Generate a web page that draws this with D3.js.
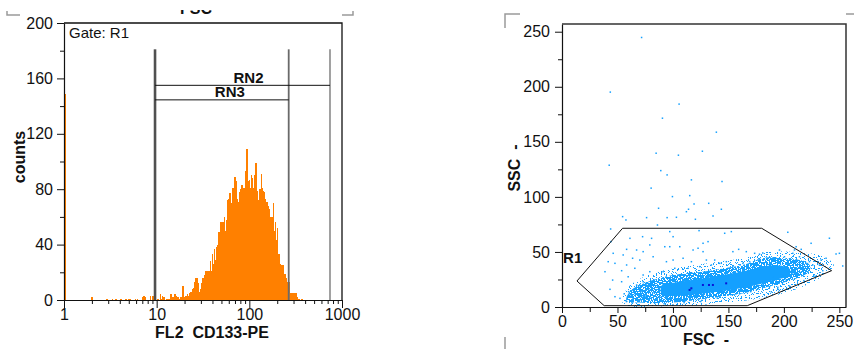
<!DOCTYPE html>
<html>
<head>
<meta charset="utf-8">
<script src="https://cdn.jsdelivr.net/npm/d3@7/dist/d3.min.js"></script>
<style>
  body { margin: 0; background: #fff; }
  svg { display: block; font-family: "Liberation Sans", Arial, sans-serif; }
</style>
</head>
<body>
<svg width="854" height="349"></svg>
<script>
// ---- histogram data (FL2 CD133-PE, 256 log channels over 1..1000)
const fl2Ticks = [1, 10, 100, 1000];
const countTicks = [0, 40, 80, 120, 160, 200];
const countMinor = [20, 60, 100, 140, 180];
const binCounts = [
  149, 0, 0, 0, 0, 0, 0, 0, 0, 0,
  0, 0, 0, 0, 0, 0, 0, 0, 0, 0,
  0, 0, 0, 0, 0, 2, 0, 0, 0, 0,
  0, 0, 0, 0, 0, 0, 0, 0, 0, 1,
  0, 0, 0, 0, 1, 0, 0, 1, 0, 0,
  0, 0, 1, 0, 0, 0, 1, 1, 0, 1,
  1, 0, 0, 0, 0, 1, 0, 1, 0, 0,
  0, 0, 2, 3, 2, 0, 0, 0, 0, 3,
  0, 3, 0, 2, 0, 0, 1, 0, 4, 1,
  3, 2, 2, 0, 1, 1, 1, 0, 4, 2,
  2, 4, 4, 3, 2, 1, 1, 2, 2, 10,
  2, 3, 3, 4, 3, 5, 6, 4, 8, 9,
  13, 16, 16, 12, 6, 8, 12, 16, 14, 18,
  21, 21, 21, 21, 28, 21, 33, 26, 37, 29,
  38, 40, 49, 43, 56, 56, 56, 60, 50, 58,
  72, 73, 77, 69, 70, 81, 73, 89, 86, 73,
  71, 78, 80, 83, 81, 81, 72, 93, 109, 86,
  87, 81, 90, 88, 81, 90, 99, 79, 72, 72,
  80, 91, 81, 79, 78, 73, 71, 68, 66, 60,
  60, 60, 70, 50, 56, 43, 52, 33, 26, 25,
  25, 25, 19, 19, 16, 13, 13, 13, 5, 5,
  5, 2, 5, 5, 2, 1, 1, 0, 1, 1,
  0, 0, 0, 0, 0, 0, 0, 0, 0, 0,
  0, 0, 0, 0, 0, 0, 0, 0, 0, 0,
  0, 0, 0, 0, 0, 0, 0, 0, 0, 0,
  0, 0, 0, 0, 0, 0
];
// marker regions: [name, low, high, level (counts), label shift px]
const markers = [
  ['RN2', 9.6, 742, 155, 6],
  ['RN3', 9.6, 266, 144.5, 8]
];
const markerTop = 181;

// ---- dot plot data (FSC vs SSC, 0..256)
const scatTicks = [0, 50, 100, 150, 200, 250];
const scatMinor = [25, 75, 125, 175, 225];
const gateR1 = [[13.5, 23.6], [54.6, 71.5], [180, 71.5], [243, 33], [167, 1.2], [38, 1.2]];
// density outlines of the main population (sparse halo, speckled core, solid centre)
const haloOutline = [
  [55, 3], [100, 1], [166, 6], [205, 14], [235, 28], [245, 38], [235, 46], [210, 50],
  [184, 50], [166, 45], [133, 40], [100, 35], [75, 28], [58, 16]
];
const coreOutline = [
  [58, 6], [70, 4], [100, 4], [133, 8], [166, 13], [184, 18], [202, 23], [220, 30], [224, 36],
  [220, 41], [202, 44], [184, 45], [166, 39], [133, 33], [100, 29], [75, 22], [62, 15]
];
const denseOutline = [
  [90, 11], [100, 10], [133, 13], [166, 18], [190, 24], [205, 29], [205, 35], [190, 38],
  [166, 33], [133, 27], [100, 22], [90, 20]
];
const events = [
  [71.7, 244.8], [43.5, 195.2], [105.5, 184.3], [90.5, 171.5], [139.1, 158.8], [84.8, 139.7], [104.9, 137.9],
  [126.5, 141.5], [42.5, 128.8], [89, 123.9], [94.7, 120], [116.6, 115.5], [144.2, 114], [80.3, 108],
  [99.5, 100.3], [115.1, 101.2], [132.2, 94.2], [87, 89.7], [114, 88.8], [143.6, 88.8], [119, 93.6],
  [76.2, 81.2], [94.7, 81.2], [120.2, 79.7], [54.6, 82.1], [57.6, 79.1], [43.8, 70.9], [112.1, 86.6],
  [103.1, 81.5], [136.1, 82.7], [86, 74.5],
  [61.2, 62.4], [72.6, 63.9], [80.7, 62.4], [44.1, 59.4], [58.2, 52.4], [67.2, 51.8], [73.1, 50.3],
  [79.1, 56.4], [46.1, 48.8], [55.1, 47.3], [63.6, 44.3], [70.1, 42.7], [82.1, 45.7], [41.6, 41.2],
  [47.7, 39.7], [58.2, 38.2], [65.6, 35.2], [38.7, 32.1], [53.7, 33], [59.6, 27.5], [73.1, 29.1],
  [79.1, 32.1], [45.6, 24.5], [53.7, 23], [43.2, 16.1], [47.7, 9.4], [63.6, 15.5], [67.2, 20], [73.1, 23],
  [77.6, 21.5], [82.7, 24.5], [71.7, 9.4], [61.2, 10.9], [52.2, 7.9],
  [97.1, 68.5], [100.1, 63.9], [123.5, 69.4], [146.6, 67], [152.6, 68.5], [127.1, 57.9], [131.6, 59.4],
  [122.6, 53.4], [92.6, 54.8], [97.1, 54.8], [106.1, 54.8], [118.1, 51.8], [127.1, 50.3], [159.2, 52.4],
  [166.1, 50.3], [173.6, 48.8], [154, 50.3], [94.1, 41.2], [100.1, 42.7], [109.1, 44.3], [116.6, 41.2],
  [130.1, 42.7], [137.6, 42.7], [142.1, 39.7], [148.1, 41.2], [91.1, 32.1], [101.6, 35.2], [113.6, 35.2],
  [124.1, 36.7], [134.6, 38.2], [154, 36.7], [163, 39.7], [169.1, 41.2], [176.5, 42.7],
  [203.5, 67.9], [241, 62.5], [224.5, 57.9], [209.5, 51.8], [215.6, 52.4], [196, 51.8], [178, 48], [181, 49],
  [247, 48.2], [250, 48.8], [238, 44.3], [233.5, 42.7], [230.5, 41.2], [223, 41.2], [220, 39.7], [226, 38.2],
  [217, 36.7], [211, 35.2], [221.5, 35.2], [232, 38.2], [253, 37.3], [190, 27.5], [199, 29.1], [208, 30],
  [214, 32.1], [184, 24.5], [193, 24.5], [181, 20], [187, 18.5], [188.6, 13.9], [194.5, 17.9], [202, 24.5],
  [211, 54.8], [208, 48.8], [200.5, 45.7], [214, 45.7],
  [60, 14], [64, 8], [66, 12], [70, 6], [72, 14], [75, 10], [78, 16], [80, 8], [83, 13], [86, 18], [69, 19],
  [76, 20], [63, 4], [84, 4], [88, 9], [56, 12], [58, 5], [92, 3], [100, 2], [110, 4], [125, 5], [140, 8],
  [160, 12], [170, 14], [195, 16], [205, 19], [218, 24], [228, 28], [235, 33]
];
const darkEvents = [[132.5, 20], [116.6, 17], [127, 20], [115, 15.5], [148, 21.5], [136, 20]];

const svg = d3.select('svg');
const ink = '#111';
const defs = svg.append('defs');

// ================= left: histogram =================
const hx = d3.scaleLog().domain([1, 1000]).range([64, 342]);
const hy = d3.scaleLinear().domain([0, 200]).range([300, 23]);
const binEdge = i => Math.pow(10, 3 * i / 256);

svg.append('g')
    .attr('fill', '#ff8000')
    .attr('shape-rendering', 'crispEdges')
    .selectAll('rect')
    .data(binCounts)
    .join('rect')
    .attr('x', (d, i) => hx(binEdge(i)))
    .attr('width', (d, i) => hx(binEdge(i + 1)) - hx(binEdge(i)) + 0.5)
    .attr('y', d => hy(d))
    .attr('height', d => hy(0) - hy(d));

// marker gates
const mk = svg.append('g');
const gateLines = [[9.6, '#505050', 2.6], [266, '#6a6a6a', 1.8], [742, '#8a8a8a', 1.6]];
mk.selectAll('line.v')
    .data(gateLines)
    .join('line')
    .attr('x1', d => hx(d[0])).attr('x2', d => hx(d[0]))
    .attr('y1', hy(markerTop)).attr('y2', hy(0))
    .attr('stroke', d => d[1]).attr('stroke-width', d => d[2]);
mk.selectAll('line.h')
    .data(markers)
    .join('line')
    .attr('x1', d => hx(d[1])).attr('x2', d => hx(d[2]))
    .attr('y1', d => hy(d[3])).attr('y2', d => hy(d[3]))
    .attr('stroke', ink).attr('stroke-width', 1);
mk.selectAll('text')
    .data(markers)
    .join('text')
    .attr('x', d => (hx(d[1]) + hx(d[2])) / 2 + d[4])
    .attr('y', d => hy(d[3]) - 2.5)
    .attr('text-anchor', 'middle')
    .attr('font-size', 15).attr('font-weight', 'bold').attr('fill', ink)
    .text(d => d[0]);

// axes
svg.append('g')
    .attr('transform', 'translate(64,0)')
    .call(d3.axisLeft(hy).tickValues(countTicks).tickSize(7).tickSizeOuter(0).tickPadding(4))
    .call(g => g.selectAll('text').attr('font-size', 16).attr('fill', ink).attr('font-family', null))
    .call(g => g.selectAll('line').attr('stroke', ink))
    .call(g => g.select('.domain').attr('stroke', ink).attr('stroke-width', 1.2));
svg.append('g')
    .attr('transform', 'translate(64,0)')
    .call(d3.axisLeft(hy).tickValues(countMinor).tickSize(4).tickSizeOuter(0).tickFormat(''))
    .call(g => g.select('.domain').remove())
    .call(g => g.selectAll('line').attr('stroke', ink));

const logMinor = [];
[1, 10, 100].forEach(dec => { for (let k = 2; k <= 9; k++) logMinor.push(dec * k); });
svg.append('g')
    .attr('transform', 'translate(0,300)')
    .call(d3.axisBottom(hx).tickValues(fl2Ticks).tickFormat(d3.format('d')).tickSize(8).tickSizeOuter(0).tickPadding(1))
    .call(g => g.selectAll('text').attr('font-size', 16).attr('fill', ink).attr('font-family', null))
    .call(g => g.selectAll('line').attr('stroke', ink))
    .call(g => g.select('.domain').attr('stroke', ink).attr('stroke-width', 1.2));
svg.append('g')
    .attr('transform', 'translate(0,300)')
    .call(d3.axisBottom(hx).tickValues(logMinor).tickSize(4).tickFormat(''))
    .call(g => g.select('.domain').remove())
    .call(g => g.selectAll('line').attr('stroke', ink));

// frame top/right
svg.append('path')
    .attr('d', `M${hx(1)},${hy(200)}H${hx(1000)}V${hy(0)}`)
    .attr('fill', 'none').attr('stroke', ink).attr('stroke-width', 1.3);

svg.append('text').attr('x', 69).attr('y', 38)
    .attr('font-size', 15).attr('fill', ink).text('Gate: R1');
svg.append('text')
    .attr('transform', 'translate(25,157) rotate(-90)')
    .attr('text-anchor', 'middle').attr('font-size', 16).attr('font-weight', 'bold').attr('fill', ink)
    .text('counts');
svg.append('text').attr('x', 212).attr('y', 338)
    .attr('text-anchor', 'middle').attr('font-size', 16).attr('font-weight', 'bold').attr('fill', ink)
    .attr('xml:space', 'preserve').style('white-space', 'pre')
    .text('FL2  CD133-PE');

// cut-off title at the very top
defs.append('clipPath').attr('id', 'topcut')
    .append('rect').attr('x', 150).attr('y', 10).attr('width', 100).attr('height', 6);
svg.append('text').attr('x', 196).attr('y', 14)
    .attr('clip-path', 'url(#topcut)')
    .attr('text-anchor', 'middle').attr('font-size', 16).attr('font-weight', 'bold').attr('fill', ink)
    .text('FSC');

// ================= right: dot plot =================
const sx = d3.scaleLinear().domain([0, 256]).range([562, 846]);
const sy = d3.scaleLinear().domain([0, 257]).range([307, 24]);
const blue = '#14a0ff';

// grain masks that give the dense population its speckled look
function grainMask(id, table, seed) {
  const f = defs.append('filter').attr('id', id + 'f')
      .attr('filterUnits', 'userSpaceOnUse')
      .attr('x', 560).attr('y', 200).attr('width', 294).attr('height', 110)
      .attr('color-interpolation-filters', 'sRGB');
  f.append('feTurbulence').attr('type', 'fractalNoise')
      .attr('baseFrequency', 0.75).attr('numOctaves', 1).attr('seed', seed);
  f.append('feColorMatrix').attr('type', 'matrix')
      .attr('values', '0 0 0 0 1  0 0 0 0 1  0 0 0 0 1  4 0 0 0 -1.5');
  f.append('feComponentTransfer').append('feFuncA')
      .attr('type', 'discrete').attr('tableValues', table);
  defs.append('mask').attr('id', id)
      .attr('maskUnits', 'userSpaceOnUse')
      .attr('x', 560).attr('y', 200).attr('width', 294).attr('height', 110)
      .append('rect')
      .attr('x', 560).attr('y', 200).attr('width', 294).attr('height', 110)
      .attr('fill', '#fff').attr('filter', `url(#${id}f)`);
}
grainMask('sparse', '0 0 0 0 0 0 0 0 0 1', 3);
grainMask('dense', '0 0 0 1 1 1 1 1 1 1', 9);

const area = d3.line().x(d => sx(d[0])).y(d => sy(d[1])).curve(d3.curveCatmullRomClosed);
const pop = svg.append('g').attr('fill', blue);
pop.append('path').datum(haloOutline).attr('d', area).attr('mask', 'url(#sparse)');
pop.append('path').datum(coreOutline).attr('d', area).attr('mask', 'url(#dense)');
pop.append('path').datum(denseOutline).attr('d', area);

svg.append('g')
    .attr('fill', blue)
    .selectAll('rect')
    .data(events)
    .join('rect')
    .attr('x', d => sx(d[0]) - 0.7).attr('y', d => sy(d[1]) - 0.7)
    .attr('width', 1.5).attr('height', 1.5);

svg.append('g')
    .attr('fill', '#0a14d8')
    .selectAll('rect')
    .data(darkEvents)
    .join('rect')
    .attr('x', d => sx(d[0]) - 1).attr('y', d => sy(d[1]) - 1)
    .attr('width', 2).attr('height', 2);

svg.append('path')
    .datum(gateR1)
    .attr('d', d => 'M' + d.map(p => [sx(p[0]), sy(p[1])].join(',')).join('L') + 'Z')
    .attr('fill', 'none').attr('stroke', ink).attr('stroke-width', 1);
svg.append('text').attr('x', sx(1)).attr('y', 263)
    .attr('font-size', 15).attr('font-weight', 'bold').attr('fill', ink).text('R1');

svg.append('g')
    .attr('transform', `translate(${sx(0)},0)`)
    .call(d3.axisLeft(sy).tickValues(scatTicks).tickSize(7).tickSizeOuter(0).tickPadding(5))
    .call(g => g.selectAll('text').attr('font-size', 16).attr('fill', ink).attr('font-family', null))
    .call(g => g.selectAll('line').attr('stroke', ink))
    .call(g => g.select('.domain').attr('stroke', ink).attr('stroke-width', 1.2));
svg.append('g')
    .attr('transform', `translate(${sx(0)},0)`)
    .call(d3.axisLeft(sy).tickValues(scatMinor).tickSize(4).tickFormat(''))
    .call(g => g.select('.domain').remove())
    .call(g => g.selectAll('line').attr('stroke', ink));
svg.append('g')
    .attr('transform', `translate(0,${sy(0)})`)
    .call(d3.axisBottom(sx).tickValues(scatTicks).tickSize(6).tickSizeOuter(0).tickPadding(3))
    .call(g => g.selectAll('text').attr('font-size', 16).attr('fill', ink).attr('font-family', null))
    .call(g => g.selectAll('line').attr('stroke', ink))
    .call(g => g.select('.domain').attr('stroke', ink).attr('stroke-width', 1.2));
svg.append('g')
    .attr('transform', `translate(0,${sy(0)})`)
    .call(d3.axisBottom(sx).tickValues(scatMinor).tickSize(5).tickFormat(''))
    .call(g => g.select('.domain').remove())
    .call(g => g.selectAll('line').attr('stroke', ink));
svg.append('path')
    .attr('d', `M${sx(0)},${sy(257)}H${sx(256)}V${sy(0)}`)
    .attr('fill', 'none').attr('stroke', '#333').attr('stroke-width', 1.5);

svg.append('text')
    .attr('transform', 'translate(520,168) rotate(-90)')
    .attr('text-anchor', 'middle').attr('font-size', 16).attr('font-weight', 'bold').attr('fill', ink)
    .attr('xml:space', 'preserve').style('white-space', 'pre')
    .text('SSC  -');
svg.append('text').attr('x', 706).attr('y', 345)
    .attr('text-anchor', 'middle').attr('font-size', 16).attr('font-weight', 'bold').attr('fill', ink)
    .attr('xml:space', 'preserve').style('white-space', 'pre')
    .text('FSC  -');

// crop marks
const marks = [
  'M7,11V15H20', 'M342,15H353V11',
  'M505,28V14H520', 'M846,14H854', 'M505,337V349'
];
svg.append('g')
    .attr('fill', 'none').attr('stroke', '#9a9a9a').attr('stroke-width', 1.5)
    .selectAll('path')
    .data(marks)
    .join('path')
    .attr('d', d => d);
</script>
</body>
</html>
